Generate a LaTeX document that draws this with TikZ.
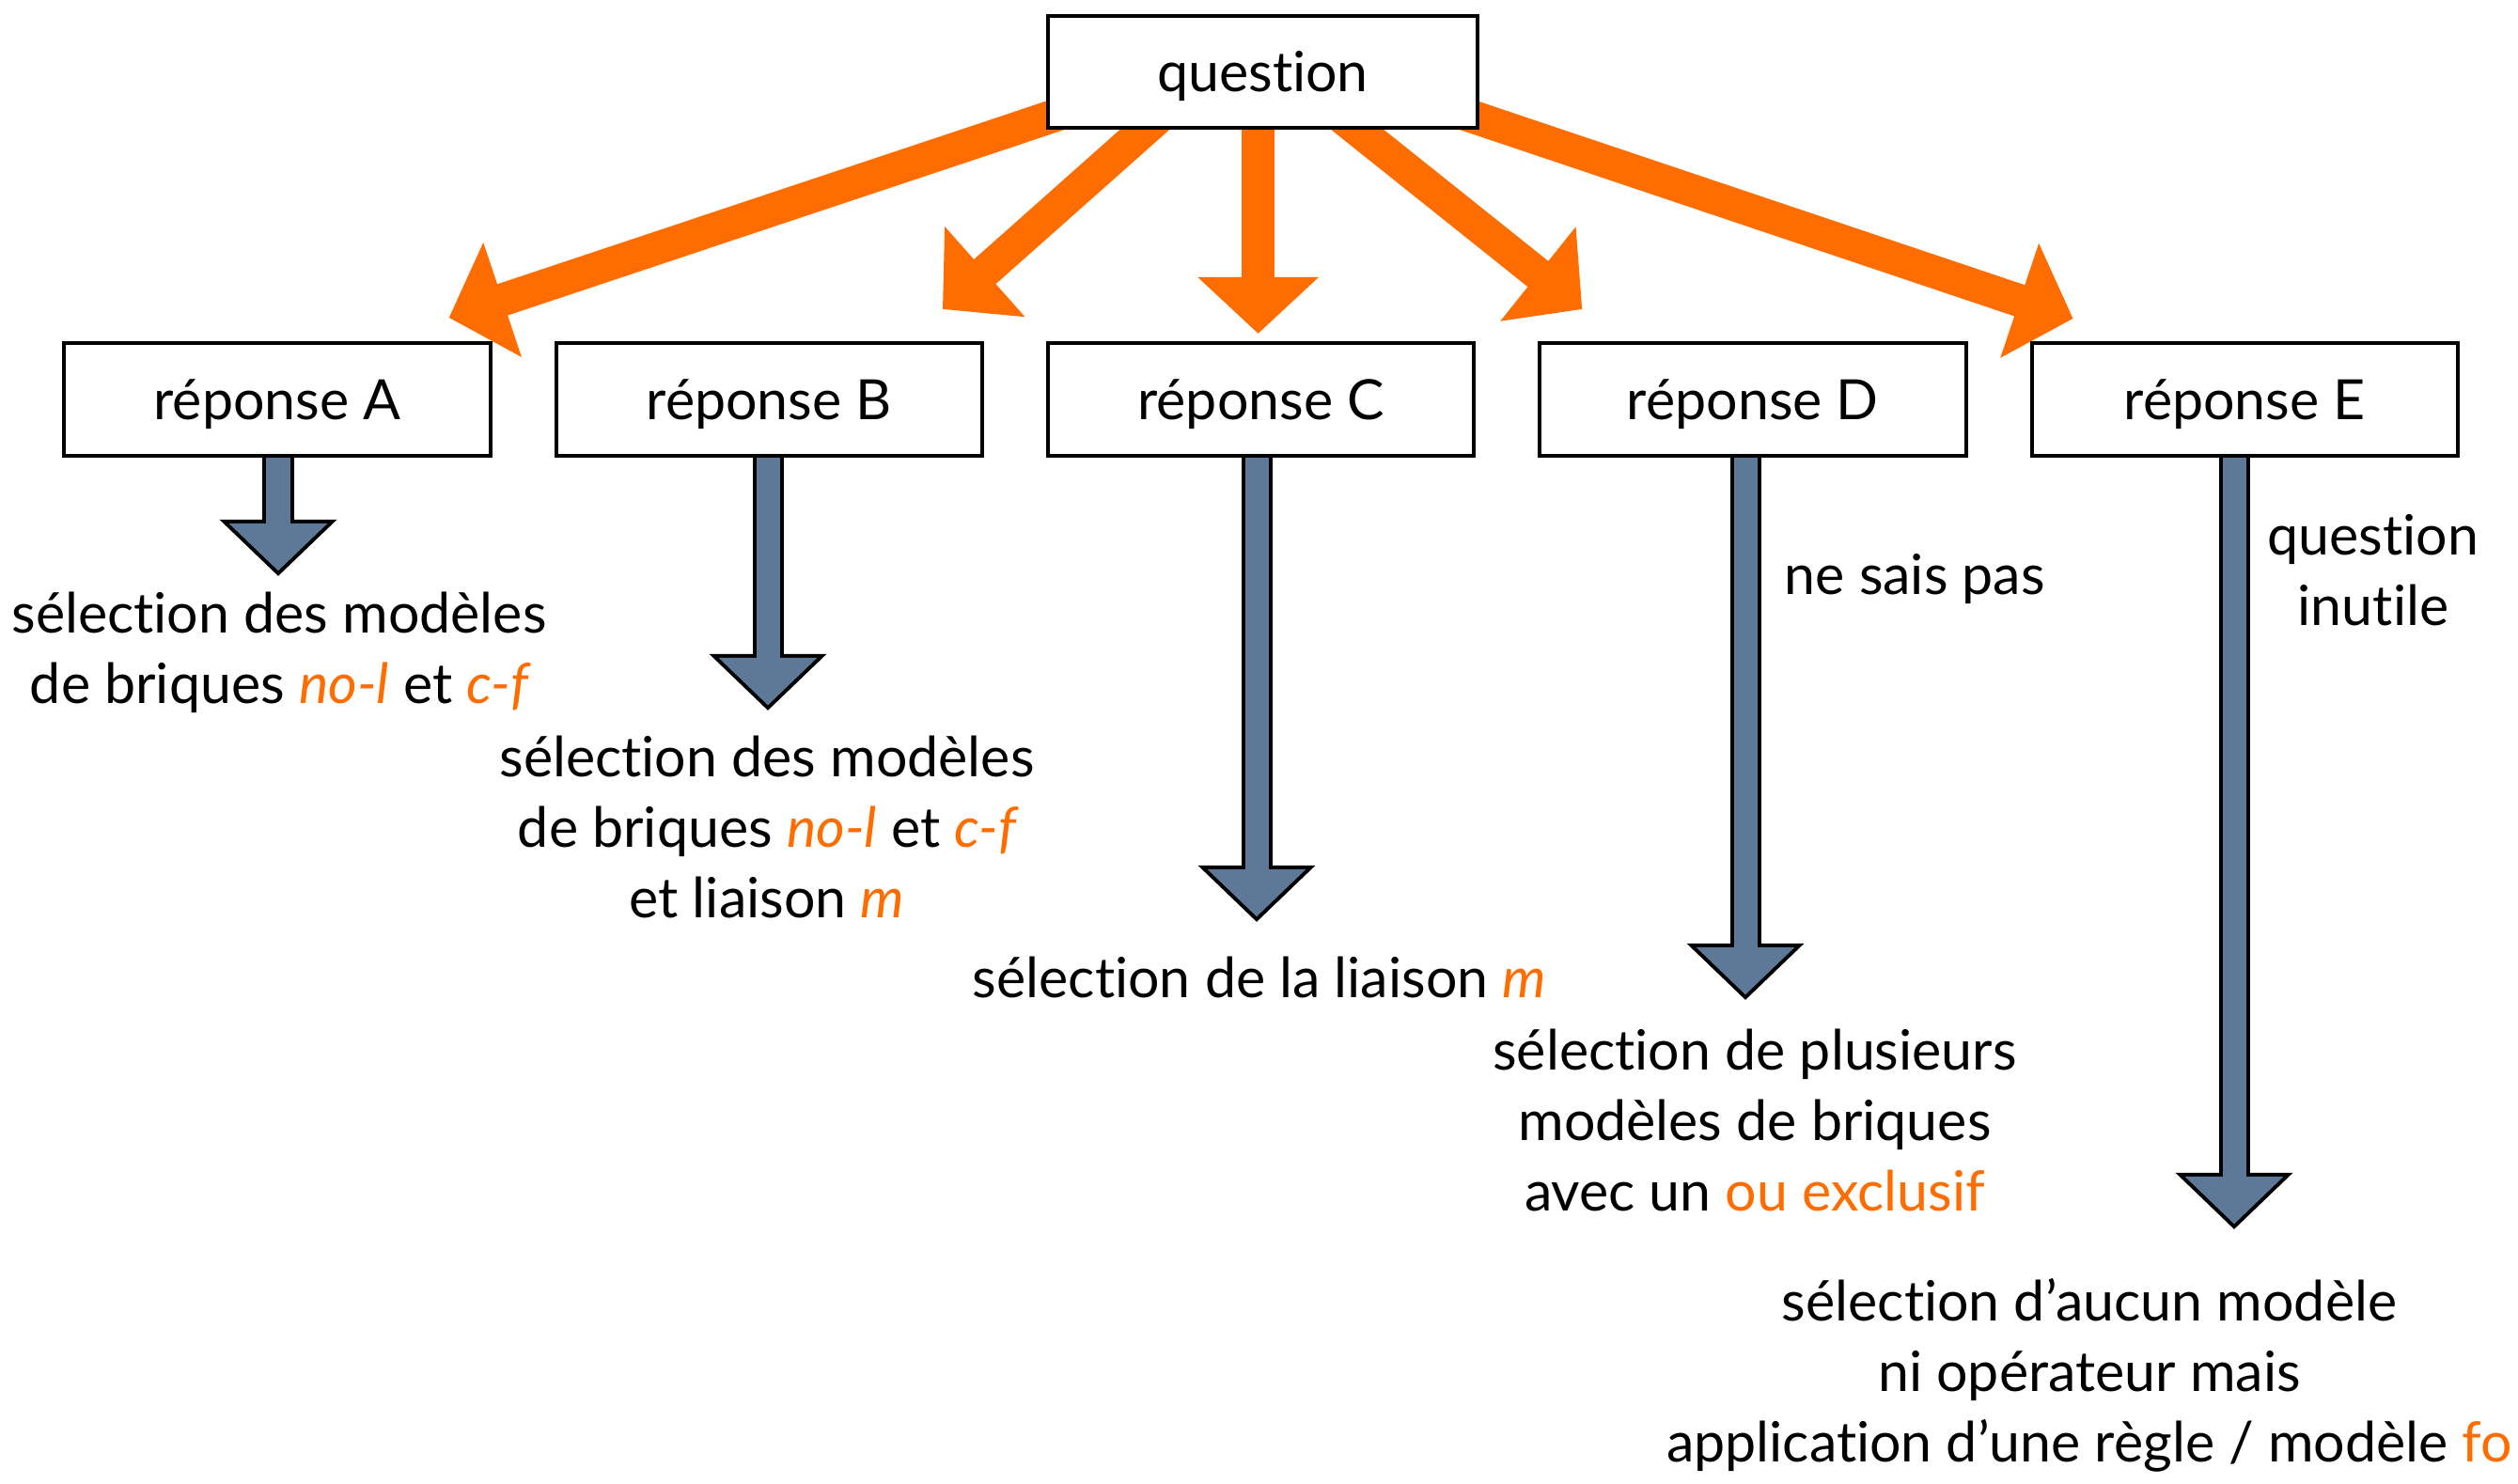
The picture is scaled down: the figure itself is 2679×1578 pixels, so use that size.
\documentclass[tikz,border=0pt]{standalone}
\usepackage{fontspec}
\setmainfont{Lato}[Ligatures=NoCommon]
\usetikzlibrary{calc, positioning, arrows.meta, backgrounds}
\definecolor{flame}{HTML}{FF6C00}
\definecolor{steel}{HTML}{5E7898}
\newcommand{\hi}[1]{\textcolor{flame}{\itshape #1}}

\begin{document}
\begin{tikzpicture}[
    x=0.01cm, y=-0.01cm,
    every node/.style={font=\fontsize{16.8}{21.2}\selectfont, text=black},
    box/.style={draw, line width=0.04cm, fill=white, minimum width=4.53cm, minimum height=1.2cm, inner sep=0pt, text height=12pt, text depth=0pt},
    txt/.style={align=center, anchor=base, inner sep=0pt},
    choice/.style={draw=flame, line width=0.35cm, -{Triangle[length=0.6cm, width=1.25cm]}},
    dropout/.style={draw=black, line width=0.33cm, -{Triangle[length=0.6cm, width=1.21cm]}},
    dropin/.style={draw=steel, line width=0.25cm, shorten >=0.056cm, -{Triangle[length=0.504cm, width=1.016cm]}}
  ]
    \useasboundingbox (0,0) rectangle (2679,1578);

    \node[box, minimum width=4.57cm, minimum height=1.19cm] (q) at (1343.5, 76.5) {question};
    \node[box] (rA) at (295, 425) {réponse A};
    \node[box, right=0.66cm of rA] (rB) {réponse B};
    \node[box, right=0.66cm of rB] (rC) {réponse C};
    \node[box, right=0.66cm of rC] (rD) {réponse D};
    \node[box, right=0.66cm of rD] (rE) {réponse E};

    % arrow tips
    \coordinate (tA) at ($(rA.north east)+(-46,-25)$);
    \coordinate (tB) at ($(rB.north east)+(-44,-34)$);
    \coordinate (tC) at ($(rC.north)+(-3,-8)$);
    \coordinate (tD) at ($(rD.north west)+(47,-34)$);
    \coordinate (tE) at ($(rE.north west)+(46,-24)$);

    \coordinate (dA) at (296, 613);
    \coordinate (dB) at (817, 756);
    \coordinate (dC) at (1337, 981);
    \coordinate (dD) at (1857, 1064);
    \coordinate (dE) at (2377, 1308);

    \begin{scope}[on background layer]
      % question to answers
      \draw[choice] ([shift={(-143.5,20.5)}]q.center) -- (tA);
      \draw[choice] ([shift={(-79.5,20.5)}]q.center) -- (tB);
      \draw[choice] (q.center -| tC) -- (tC);
      \draw[choice] ([shift={(49.5,20.5)}]q.center) -- (tD);
      \draw[choice] ([shift={(142.5,20.5)}]q.center) -- (tE);

      % answers to outcomes
      \foreach \r/\d in {rA/dA, rB/dB, rC/dC, rD/dD, rE/dE} {
        \draw[dropout] (\r.south -| \d) -- (\d);
        \draw[dropin] (\r.south -| \d) -- (\d);
      }
    \end{scope}

    \node[txt] (sA) at (297, 748) {sélection des modèles\\de briques \hi{no-l} et \hi{c-f}};
    \node[txt] (sB) at (816, 976) {sélection des modèles\\de briques \hi{no-l} et \hi{c-f}\\et liaison \hi{m}};
    \node[txt] (sC) at (1340, 1061) {sélection de la liaison \hi{m}};
    \node[txt] (sD) at (1867, 1288) {sélection de plusieurs\\modèles de briques\\avec un \textcolor{flame}{ou exclusif}};
    \node[txt] (sE) at (2223, 1555) {sélection d’aucun modèle\\ni opérateur mais\\application d’une règle / modèle \textcolor{flame}{fo}};
    \node[txt, anchor=base west] (nsp) at (1898, 632) {ne sais pas};
    \node[txt] (qi) at (2525, 665) {question\\inutile};
\end{tikzpicture}
\end{document}
